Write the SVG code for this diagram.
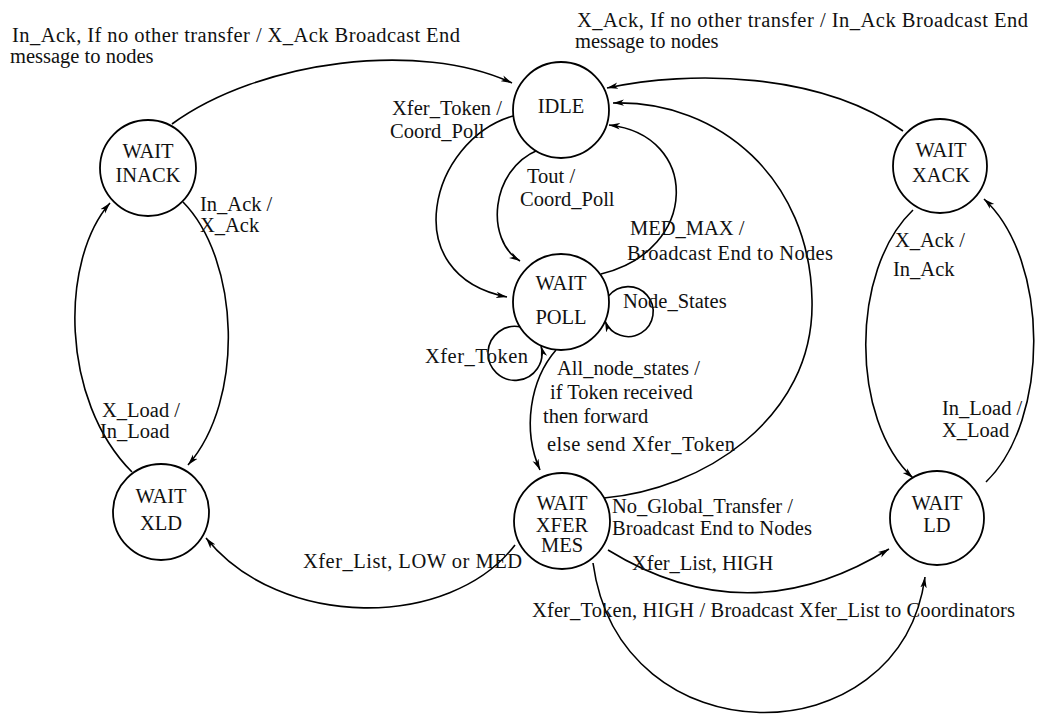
<svg xmlns="http://www.w3.org/2000/svg" width="1042" height="719" viewBox="0 0 1042 719">
<style>
  text { font-family: "Liberation Serif", "Times New Roman", serif; font-size: 20.5px; fill: #111; }
  .node circle { fill: #fff; stroke: #000; stroke-width: 1.8; }
  .node text { text-anchor: middle; }
  .edge { fill: none; stroke: #000; stroke-width: 1.6; marker-end: url(#arr); }
</style>
<defs>
  <marker id="arr" markerUnits="userSpaceOnUse" markerWidth="12" markerHeight="8" refX="11" refY="4" orient="auto">
    <path d="M0,0.8 L11,4 L0,7.2 L3,4 Z" fill="#000"/>
  </marker>
</defs>
<rect width="1042" height="719" fill="#fff"/>

<g id="connectors">
  <!-- INACK -> IDLE -->
  <path class="edge" d="M172,124 C 260,60 420,40 512,83"/>
  <!-- IDLE -> POLL (Xfer_Token / Coord_Poll) -->
  <path class="edge" d="M513,116 C 430,140 395,275 507,297"/>
  <!-- IDLE -> POLL (Tout / Coord_Poll) -->
  <path class="edge" d="M538,150 C 490,170 485,240 520,261"/>
  <!-- POLL -> IDLE (MED_MAX) -->
  <path class="edge" d="M601,274 C 700,250 700,135 609,125"/>
  <!-- XFER -> IDLE (No_Global_Transfer) -->
  <path class="edge" d="M604,498 C 700,490 815,420 812,300 C 810,180 720,100 613,103"/>
  <!-- XACK -> IDLE -->
  <path class="edge" d="M903,131 C 820,72 690,70 607,88"/>
  <!-- POLL self-loop Xfer_Token -->
  <path class="edge" d="M521,327 A 27 27 0 1 0 541,346"/>
  <!-- POLL self-loop Node_States -->
  <path class="edge" d="M608.8,295.8 A 25 25 0 1 1 605,321"/>
  <!-- POLL -> XFER -->
  <path class="edge" d="M556,350 C 530,380 522,430 540,470"/>
  <!-- XFER -> XLD -->
  <path class="edge" d="M515,545 C 450,630 280,630 206,538"/>
  <!-- XFER -> LD (Xfer_List, HIGH) -->
  <path class="edge" d="M608,550 Q 748,636 889,549"/>
  <!-- XFER -> LD (Xfer_Token, HIGH) -->
  <path class="edge" d="M593,563 C 620,760 900,760 925,577"/>
  <!-- INACK -> XLD -->
  <path class="edge" d="M183,202 C 240,260 245,400 188,465"/>
  <!-- XLD -> INACK -->
  <path class="edge" d="M132,472 C 60,400 60,260 110,203"/>
  <!-- XACK -> LD -->
  <path class="edge" d="M913,210 C 850,270 850,420 913,478"/>
  <!-- LD -> XACK -->
  <path class="edge" d="M986,482 C 1050,420 1050,260 984,199"/>
</g>

<g id="labels">
  <text x="12" y="42" textLength="448" lengthAdjust="spacing">In_Ack, If no other transfer / X_Ack Broadcast End</text>
  <text x="10" y="63">message to nodes</text>
  <text x="577" y="27" textLength="451" lengthAdjust="spacing">X_Ack, If no other transfer / In_Ack Broadcast End</text>
  <text x="575" y="48">message to nodes</text>
  <text x="392" y="115" textLength="110" lengthAdjust="spacing">Xfer_Token /</text>
  <text x="390" y="138">Coord_Poll</text>
  <text x="200" y="211">In_Ack /</text>
  <text x="200" y="232">X_Ack</text>
  <text x="527" y="183">Tout /</text>
  <text x="520" y="206">Coord_Poll</text>
  <text x="630" y="235">MED_MAX /</text>
  <text x="627" y="260" textLength="206" lengthAdjust="spacing">Broadcast End to Nodes</text>
  <text x="623" y="308">Node_States</text>
  <text x="425" y="363" textLength="103" lengthAdjust="spacing">Xfer_Token</text>
  <text x="557" y="375">All_node_states /</text>
  <text x="550" y="399">if Token received</text>
  <text x="543" y="423">then forward</text>
  <text x="547" y="451" textLength="188" lengthAdjust="spacing">else send Xfer_Token</text>
  <text x="612" y="513">No_Global_Transfer /</text>
  <text x="612" y="535" textLength="200" lengthAdjust="spacing">Broadcast End to Nodes</text>
  <text x="632" y="570">Xfer_List, HIGH</text>
  <text x="532" y="617" textLength="483" lengthAdjust="spacing">Xfer_Token, HIGH / Broadcast Xfer_List to Coordinators</text>
  <text x="303" y="568" textLength="219" lengthAdjust="spacing">Xfer_List, LOW or MED</text>
  <text x="895" y="247">X_Ack /</text>
  <text x="893" y="276">In_Ack</text>
  <text x="942" y="415">In_Load /</text>
  <text x="942" y="437">X_Load</text>
  <text x="102" y="417">X_Load /</text>
  <text x="100" y="438">In_Load</text>
</g>

<g id="node-idle" class="node">
  <circle cx="561" cy="110" r="48"/>
  <text x="561" y="113">IDLE</text>
</g>
<g id="node-wait-inack" class="node">
  <circle cx="148" cy="168" r="48"/>
  <text x="148" y="158">WAIT</text>
  <text x="148" y="182">INACK</text>
</g>
<g id="node-wait-poll" class="node">
  <circle cx="561" cy="302" r="48"/>
  <text x="561" y="290">WAIT</text>
  <text x="561" y="324">POLL</text>
</g>
<g id="node-wait-xfer-mes" class="node">
  <circle cx="562" cy="521" r="48"/>
  <text x="562" y="510">WAIT</text>
  <text x="562" y="532">XFER</text>
  <text x="562" y="552">MES</text>
</g>
<g id="node-wait-xack" class="node">
  <circle cx="940" cy="166" r="47"/>
  <text x="941" y="157">WAIT</text>
  <text x="941" y="182">XACK</text>
</g>
<g id="node-wait-ld" class="node">
  <circle cx="937" cy="518" r="47"/>
  <text x="937" y="510">WAIT</text>
  <text x="937" y="532">LD</text>
</g>
<g id="node-wait-xld" class="node">
  <circle cx="161" cy="512" r="48"/>
  <text x="161" y="503">WAIT</text>
  <text x="161" y="530">XLD</text>
</g>
</svg>
